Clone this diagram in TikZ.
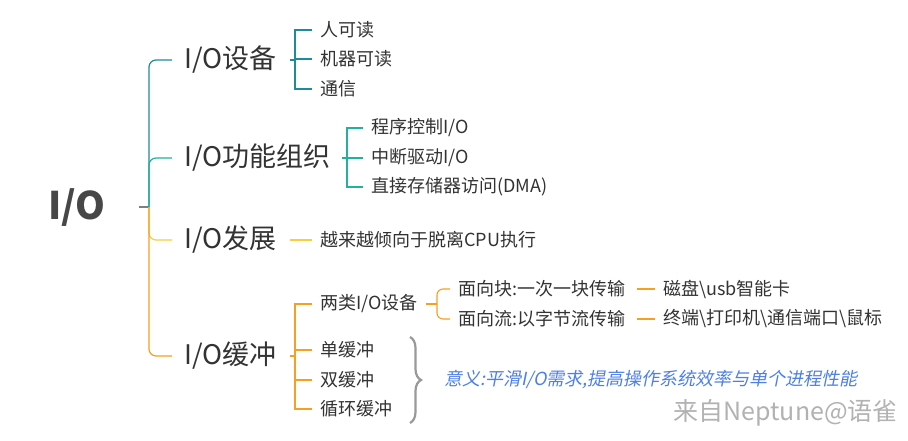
\documentclass[tikz,border=0pt]{standalone}
\usepackage{fontspec}
\setmainfont{Noto Sans CJK SC}
\newfontfamily\cjkit[FakeSlant=0.2]{Noto Sans CJK SC}
\usetikzlibrary{decorations.pathreplacing}
\definecolor{cA}{HTML}{1F8A9A}
\definecolor{cB}{HTML}{20B29A}
\definecolor{cC}{HTML}{F7CF3C}
\definecolor{cD}{HTML}{F5A021}
\definecolor{tx}{HTML}{333333}
\definecolor{bl}{HTML}{4D7FE8}
\tikzset{
  x=1pt,y=-1pt,
  lvl1/.style={anchor=west,inner sep=0pt,text=tx,font=\fontsize{27}{30}\selectfont},
  lvl2/.style={anchor=west,inner sep=0pt,text=tx,font=\fontsize{18}{21}\selectfont},
  br/.style={line width=1.2pt,rounded corners=7pt},
}
\begin{document}
\begin{tikzpicture}
\useasboundingbox[fill=white] (0,0) rectangle (908,441);
% root
\node[anchor=center,inner sep=0pt,text=tx!90!white,font=\fontsize{38}{42}\selectfont\bfseries] (root) at (77,208) {I/O};
\coordinate (rj) at (149,207);
\draw[gray,line width=1.2pt] (139,207) -- (rj);
% level 1 nodes
\node[lvl1] (n1) at (184,60) {I/O设备};
\node[lvl1] (n2) at (184,158) {I/O功能组织};
\node[lvl1] (n3) at (184,240) {I/O发展};
\node[lvl1] (n4) at (184,356) {I/O缓冲};
\draw[br,cA] (rj) |- ([xshift=-12pt]n1.west);
\draw[br,cB] (rj) |- ([xshift=-12pt]n2.west);
\draw[br,cC] (rj) |- ([xshift=-12pt]n3.west);
\draw[br,cD] (rj) |- ([xshift=-12pt]n4.west);
% branch 1
\node[lvl2] (a1) at (320,30) {人可读};
\node[lvl2] (a2) at (320,59) {机器可读};
\node[lvl2] (a3) at (320,89) {通信};
\coordinate (j1) at (295,60);
\draw[cA,line width=1.1pt] (290,60) -- (j1);
\foreach \t in {a1,a2,a3}{\draw[cA,line width=1.1pt] (j1) |- ([xshift=-8pt]\t.west);}
% branch 2
\node[lvl2] (b1) at (371,128) {程序控制I/O};
\node[lvl2] (b2) at (371,158) {中断驱动I/O};
\node[lvl2] (b3) at (371,187) {直接存储器访问(DMA)};
\coordinate (j2) at (347,158);
\draw[cB,line width=1.1pt] (342,158) -- (j2);
\foreach \t in {b1,b2,b3}{\draw[cB,line width=1.1pt] (j2) |- ([xshift=-8pt]\t.west);}
% branch 3
\node[lvl2] (c1) at (320,240) {越来越倾向于脱离CPU执行};
\draw[cC,line width=1.1pt] (290,240) -- ([xshift=-8pt]c1.west);
% branch 4
\node[lvl2] (d1) at (320,304) {两类I/O设备};
\node[lvl2] (d2) at (320,350) {单缓冲};
\node[lvl2] (d3) at (320,380) {双缓冲};
\node[lvl2] (d4) at (320,409) {循环缓冲};
\coordinate (j4) at (295,356);
\draw[cD,line width=1.1pt] (290,356) -- (j4);
\foreach \t in {d1,d2,d3,d4}{\draw[cD,line width=1.1pt] (j4) |- ([xshift=-8pt]\t.west);}
% two device kinds
\node[lvl2] (e1) at (458,289) {面向块:一次一块传输};
\node[lvl2] (e2) at (458,319) {面向流:以字节流传输};
\coordinate (j5) at (437,304);
\draw[cD,line width=1.1pt] ([xshift=8pt]d1.east) -- (j5);
\foreach \t in {e1,e2}{\draw[cD,line width=1.1pt,rounded corners=6pt] (j5) |- ([xshift=-8pt]\t.west);}
\node[lvl2] (f1) at (663,289) {磁盘\textbackslash usb智能卡};
\node[lvl2] (f2) at (663,319) {终端\textbackslash 打印机\textbackslash 通信端口\textbackslash 鼠标};
\draw[cD,line width=1.1pt] (637,289) -- ([xshift=-8pt]f1.west);
\draw[cD,line width=1.1pt] (637,319) -- ([xshift=-8pt]f2.west);
% brace and meaning
\coordinate (bt) at (410,337);
\coordinate (bb) at (410,423);
\draw[gray!80,line width=2.2pt,decorate,decoration={brace,amplitude=11pt}] (bt) -- (bb);
\node[anchor=west,inner sep=0pt,text=bl,font=\fontsize{18}{21}\selectfont\cjkit] (m) at (444,380) {意义:平滑I/O需求,提高操作系统效率与单个进程性能};
% watermark
\node[anchor=east,inner sep=0pt,text=gray!60,font=\fontsize{25}{28}\selectfont] (wm) at (898,413) {来自Neptune@语雀};
\end{tikzpicture}
\end{document}
